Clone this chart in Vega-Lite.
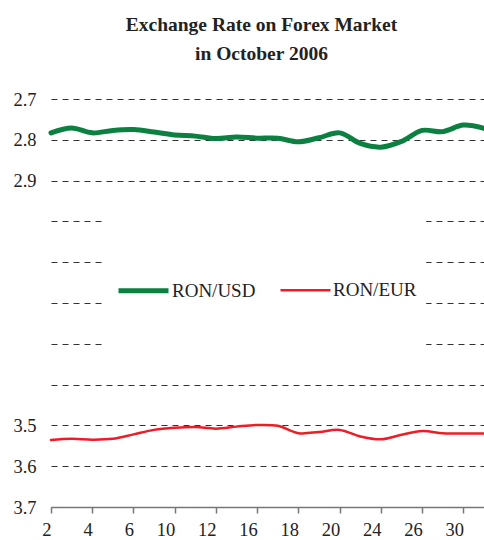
{
  "$schema": "https://vega.github.io/schema/vega-lite/v6.json",
  "autosize": "none",
  "width": 433,
  "height": 408,
  "padding": {"left": 51, "top": 99, "right": 0, "bottom": 33},
  "background": "white",
  "title": {
    "text": ["Exchange Rate on Forex Market", "in October 2006"],
    "font": "Liberation Serif",
    "fontSize": 19.5,
    "fontWeight": "bold",
    "color": "#222222",
    "lineHeight": 29,
    "anchor": "middle",
    "dx": -6,
    "offset": 26
  },
  "config": {
    "font": "Liberation Serif",
    "view": {"stroke": null}
  },
  "data": {
    "values": [
      {"day": "2", "series": "RON/USD", "rate": 2.783},
      {"day": "3", "series": "RON/USD", "rate": 2.771},
      {"day": "4", "series": "RON/USD", "rate": 2.783},
      {"day": "5", "series": "RON/USD", "rate": 2.777},
      {"day": "6", "series": "RON/USD", "rate": 2.775},
      {"day": "9", "series": "RON/USD", "rate": 2.781},
      {"day": "10", "series": "RON/USD", "rate": 2.788},
      {"day": "11", "series": "RON/USD", "rate": 2.791},
      {"day": "12", "series": "RON/USD", "rate": 2.797},
      {"day": "13", "series": "RON/USD", "rate": 2.793},
      {"day": "16", "series": "RON/USD", "rate": 2.796},
      {"day": "17", "series": "RON/USD", "rate": 2.796},
      {"day": "18", "series": "RON/USD", "rate": 2.805},
      {"day": "19", "series": "RON/USD", "rate": 2.795},
      {"day": "20", "series": "RON/USD", "rate": 2.783},
      {"day": "23", "series": "RON/USD", "rate": 2.809},
      {"day": "24", "series": "RON/USD", "rate": 2.818},
      {"day": "25", "series": "RON/USD", "rate": 2.804},
      {"day": "26", "series": "RON/USD", "rate": 2.777},
      {"day": "27", "series": "RON/USD", "rate": 2.780},
      {"day": "30", "series": "RON/USD", "rate": 2.764},
      {"day": "31", "series": "RON/USD", "rate": 2.772},
      {"day": "2", "series": "RON/EUR", "rate": 3.536},
      {"day": "3", "series": "RON/EUR", "rate": 3.533},
      {"day": "4", "series": "RON/EUR", "rate": 3.535},
      {"day": "5", "series": "RON/EUR", "rate": 3.533},
      {"day": "6", "series": "RON/EUR", "rate": 3.522},
      {"day": "9", "series": "RON/EUR", "rate": 3.511},
      {"day": "10", "series": "RON/EUR", "rate": 3.506},
      {"day": "11", "series": "RON/EUR", "rate": 3.504},
      {"day": "12", "series": "RON/EUR", "rate": 3.508},
      {"day": "13", "series": "RON/EUR", "rate": 3.503},
      {"day": "16", "series": "RON/EUR", "rate": 3.499},
      {"day": "17", "series": "RON/EUR", "rate": 3.501},
      {"day": "18", "series": "RON/EUR", "rate": 3.519},
      {"day": "19", "series": "RON/EUR", "rate": 3.516},
      {"day": "20", "series": "RON/EUR", "rate": 3.511},
      {"day": "23", "series": "RON/EUR", "rate": 3.527},
      {"day": "24", "series": "RON/EUR", "rate": 3.534},
      {"day": "25", "series": "RON/EUR", "rate": 3.523},
      {"day": "26", "series": "RON/EUR", "rate": 3.514},
      {"day": "27", "series": "RON/EUR", "rate": 3.519},
      {"day": "30", "series": "RON/EUR", "rate": 3.520},
      {"day": "31", "series": "RON/EUR", "rate": 3.520}
    ]
  },
  "layer": [
    {
      "data": {"values": [{}]},
      "mark": {"type": "rect", "fill": "white", "xOffset": -7, "x2Offset": 4},
      "encoding": {
        "x": {"datum": "5", "type": "ordinal"},
        "x2": {"datum": "26"},
        "y": {"datum": 2.95, "type": "quantitative"},
        "y2": {"datum": 3.35}
      }
    },
    {
      "mark": {"type": "line", "interpolate": "catmull-rom", "strokeCap": "round"},
      "encoding": {
        "x": {
          "field": "day",
          "type": "ordinal",
          "scale": {
            "type": "point",
            "padding": 0,
            "domain": ["2","3","4","5","6","9","10","11","12","13","16","17","18","19","20","23","24","25","26","27","30","31"]
          },
          "axis": {
            "title": null,
            "values": ["2","4","6","10","12","16","18","20","24","26","30"],
            "labelAngle": 0,
            "labelFont": "Liberation Serif",
            "labelFontSize": 18.5,
            "labelColor": "#222222",
            "labelPadding": 16.5,
            "labelBaseline": "middle",
            "tickSize": 6,
            "tickColor": "#777777",
            "domainColor": "#777777",
            "domainWidth": 1.5,
            "tickWidth": 1.5,
            "grid": false
          }
        },
        "y": {
          "field": "rate",
          "type": "quantitative",
          "scale": {"domain": [2.7, 3.7], "reverse": true, "zero": false, "nice": false},
          "axis": {
            "title": null,
            "values": [2.7, 2.8, 2.9, 3.0, 3.1, 3.2, 3.3, 3.4, 3.5, 3.6, 3.7],
            "labelExpr": "datum.value > 2.95 && datum.value < 3.45 ? '' : format(datum.value, '.1f')",
            "labelFont": "Liberation Serif",
            "labelFontSize": 18.5,
            "labelColor": "#222222",
            "labelPadding": 15,
            "ticks": false,
            "tickSize": 0,
            "domain": false,
            "grid": true,
            "gridColor": "#333333",
            "gridDash": [6, 5],
            "gridWidth": 1
          }
        },
        "color": {
          "field": "series",
          "type": "nominal",
          "scale": {"domain": ["RON/USD", "RON/EUR"], "range": ["#0b8040", "#ee1c25"]},
          "legend": {
            "title": null,
            "orient": "none",
            "direction": "horizontal",
            "legendX": 65,
            "legendY": 164,
            "symbolType": "stroke",
            "symbolSize": 2500,
            "labelFont": "Liberation Serif",
            "labelFontSize": 19,
            "labelColor": "#222222",
            "labelOffset": 1,
            "columnPadding": 19,
            "padding": 0
          }
        },
        "strokeWidth": {
          "field": "series",
          "type": "nominal",
          "scale": {"type": "point", "domain": ["RON/USD", "RON/EUR"], "range": [5, 2.5]}
        }
      }
    }
  ]
}
